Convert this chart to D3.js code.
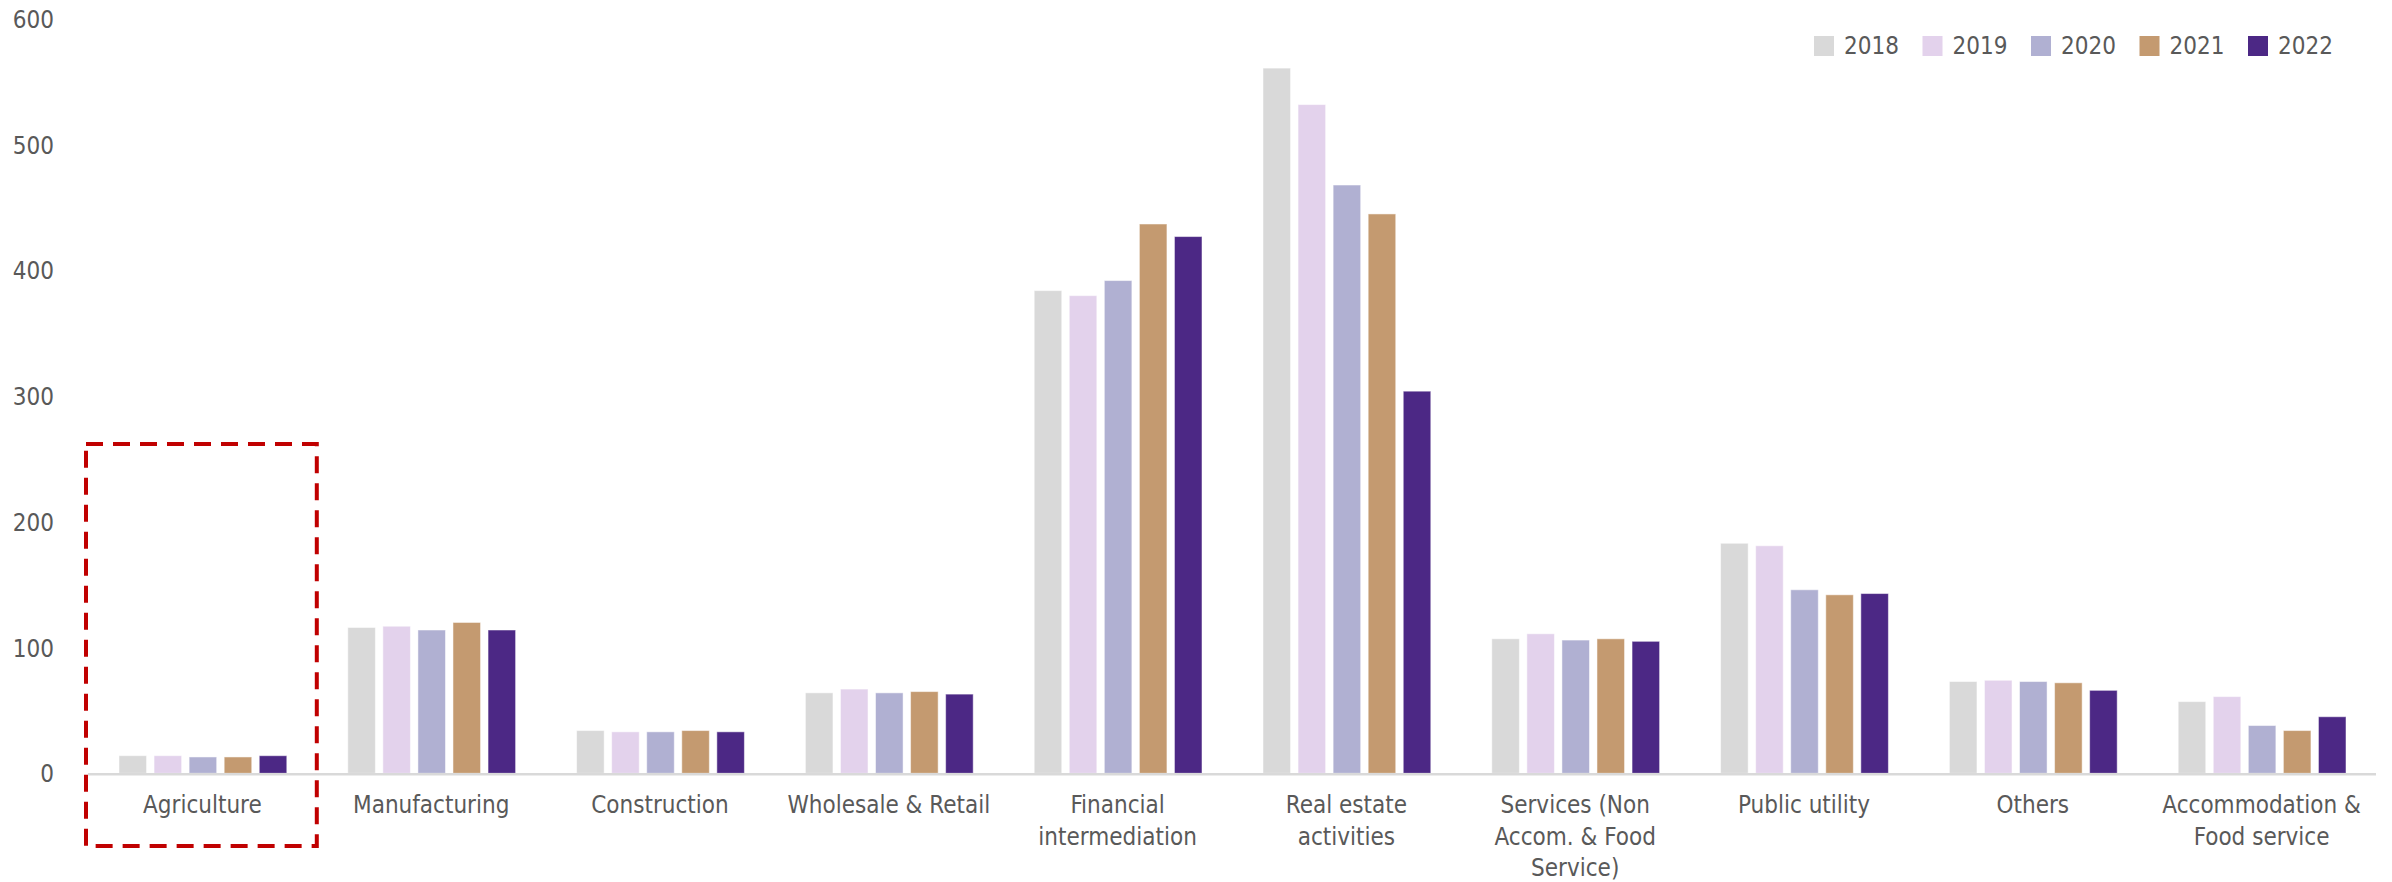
<!DOCTYPE html>
<html lang="en">
<head>
  <meta charset="UTF-8">
  <title>Sector bars 2018-2022</title>
  <script src="https://d3js.org/d3.v7.min.js"></script>
  <style>
    body {
      margin: 0;
      background: #fff;
    }
    svg text {
      font-family: "DejaVu Sans Condensed", "DejaVu Sans", sans-serif;
      font-stretch: condensed;
      fill: #595959;
    }
  </style>
</head>
<body>
  <svg width="2392" height="882"></svg>

  <script>
    // data
    const years = ["2018", "2019", "2020", "2021", "2022"];
    const categories = [
      "Agriculture",
      "Manufacturing",
      "Construction",
      "Wholesale & Retail",
      "Financial\nintermediation",
      "Real estate\nactivities",
      "Services (Non\nAccom. & Food\nService)",
      "Public utility",
      "Others",
      "Accommodation &\nFood service"
    ];
    const v2018 = [14, 116, 34, 64, 384, 561, 107, 183, 73, 57];
    const v2019 = [14, 117, 33, 67, 380, 532, 111, 181, 74, 61];
    const v2020 = [13, 114, 33, 64, 392, 468, 106, 146, 73, 38];
    const v2021 = [13, 120, 34, 65, 437, 445, 107, 142, 72, 34];
    const v2022 = [14, 114, 33, 63, 427, 304, 105, 143, 66, 45];
    const yTicks = [0, 100, 200, 300, 400, 500, 600];
    const colors = ["#d9d9d9", "#e3d2ec", "#b0b0d2", "#c49a70", "#4c2885"];

    const series = [v2018, v2019, v2020, v2021, v2022];

    const svg = d3.select("svg");

    const x0 = d3.scaleBand()
      .domain(categories)
      .range([88, 2376])
      .padding(0);

    const x1 = d3.scaleBand()
      .domain(years)
      .range([31, x0.bandwidth() - 30])
      .paddingInner(0.214)
      .paddingOuter(0);

    const y = d3.scaleLinear()
      .domain([0, 600])
      .range([773.3, 19.1]);

    const color = d3.scaleOrdinal().domain(years).range(colors);

    // y axis labels only
    svg.append("g")
      .attr("transform", "translate(54,0)")
      .call(d3.axisLeft(y).tickValues(yTicks).tickSize(0).tickPadding(0))
      .call(g => g.select(".domain").remove())
      .selectAll("text")
        .style("font-size", "24px")
        .attr("dy", "0.35em");

    // bars
    const rows = categories.map((c, i) => ({
      cat: c,
      vals: years.map((yr, j) => ({ year: yr, value: series[j][i] }))
    }));

    svg.append("g")
      .selectAll("g")
      .data(rows)
      .join("g")
        .attr("transform", d => `translate(${x0(d.cat)},0)`)
      .selectAll("rect")
      .data(d => d.vals)
      .join("rect")
        .attr("x", d => x1(d.year))
        .attr("y", d => y(d.value))
        .attr("width", x1.bandwidth())
        .attr("height", d => y(0) - y(d.value))
        .attr("fill", d => color(d.year))
        .attr("stroke", "#fff")
        .attr("stroke-opacity", 0.5)
        .attr("stroke-width", 1);

    // baseline
    svg.append("line")
      .attr("x1", x0.range()[0])
      .attr("x2", x0.range()[1])
      .attr("y1", y(0) + 1)
      .attr("y2", y(0) + 1)
      .attr("stroke", "#d9d9d9")
      .attr("stroke-width", 2.5);

    // category labels, split on line breaks
    const labels = svg.append("g")
      .selectAll("text")
      .data(categories)
      .join("text")
        .attr("text-anchor", "middle")
        .attr("x", d => x0(d) + x0.bandwidth() / 2)
        .attr("y", 813)
        .style("font-size", "24px");

    labels.selectAll("tspan")
      .data(d => d.split("\n"))
      .join("tspan")
        .attr("x", function() { return d3.select(this.parentNode).attr("x"); })
        .attr("dy", (d, i) => i === 0 ? 0 : 31.5)
        .text(d => d);

    // legend
    const legend = svg.append("g")
      .selectAll("g")
      .data(years)
      .join("g")
        .attr("transform", (d, i) => `translate(${1814 + i * 108.5},36)`);

    legend.append("rect")
      .attr("width", 20)
      .attr("height", 20)
      .attr("fill", d => color(d));

    legend.append("text")
      .attr("x", 30)
      .attr("y", 10)
      .attr("dy", "0.35em")
      .style("font-size", "24px")
      .text(d => d);

    // red dashed highlight around Agriculture
    const agri = categories[0];
    svg.append("rect")
      .attr("x", x0(agri) - 2)
      .attr("y", y(262))
      .attr("width", x0.bandwidth() + 2)
      .attr("height", 846 - y(262))
      .attr("fill", "none")
      .attr("stroke", "#c00000")
      .attr("stroke-width", 4)
      .attr("stroke-dasharray", "17 10");
  </script>
</body>
</html>
